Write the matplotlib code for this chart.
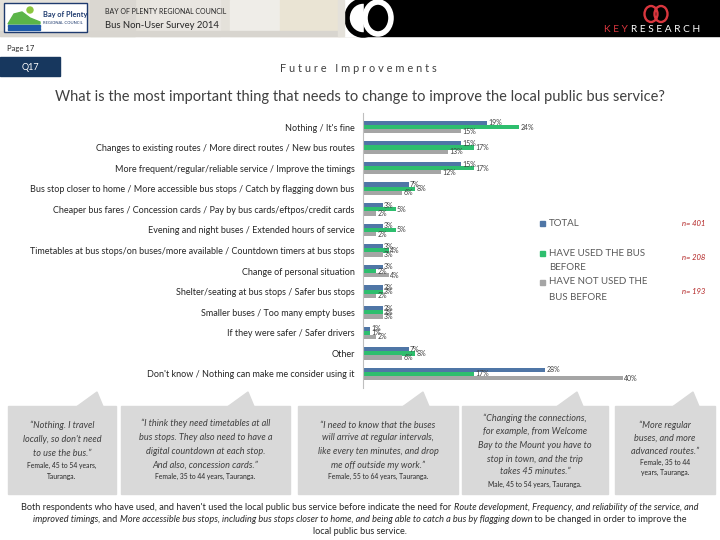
import matplotlib
matplotlib.use('Agg')
import matplotlib.pyplot as plt
from matplotlib.patches import Rectangle, Polygon, Ellipse, Circle
import numpy as np

plt.rcParams['font.family'] = ['Lato', 'DejaVu Sans']

# ---------------- data ----------------
categories = [
    "Nothing / It's fine",
    "Changes to existing routes / More direct routes / New bus routes",
    "More frequent/regular/reliable service / Improve the timings",
    "Bus stop closer to home / More accessible bus stops / Catch by flagging down bus",
    "Cheaper bus fares / Concession cards / Pay by bus cards/eftpos/credit cards",
    "Evening and night buses / Extended hours of service",
    "Timetables at bus stops/on buses/more available / Countdown timers at bus stops",
    "Change of personal situation",
    "Shelter/seating at bus stops / Safer bus stops",
    "Smaller buses / Too many empty buses",
    "If they were safer / Safer drivers",
    "Other",
    "Don't know / Nothing can make me consider using it",
]
total = [19, 15, 15, 7, 3, 3, 3, 3, 3, 3, 1, 7, 28]
used_before = [24, 17, 17, 8, 5, 5, 4, 2, 3, 3, 1, 8, 17]
not_used_before = [15, 13, 12, 6, 2, 2, 3, 4, 2, 3, 2, 6, 40]
series_names = ["TOTAL", "HAVE USED THE BUS\nBEFORE", "HAVE NOT USED THE\nBUS BEFORE"]
sample_sizes = ["n= 401", "n= 208", "n= 193"]

quotes = [
    "\u201cNothing. I travel\nlocally, so don't need\nto use the bus.\u201d",
    "\u201cI think they need timetables at all\nbus stops. They also need to have a\ndigital countdown at each stop.\nAnd also, concession cards.\u201d",
    "\u201cI need to know that the buses\nwill arrive at regular intervals,\nlike every ten minutes, and drop\nme off outside my work.\u201d",
    "\u201cChanging the connections,\nfor example, from Welcome\nBay to the Mount you have to\nstop in town, and the trip\ntakes 45 minutes.\u201d",
    "\u201cMore regular\nbuses, and more\nadvanced routes.\u201d",
]
attributions = [
    "Female, 45 to 54 years,\nTauranga.",
    "Female, 35 to 44 years, Tauranga.",
    "Female, 55 to 64 years, Tauranga.",
    "Male, 45 to 54 years, Tauranga.",
    "Female, 35 to 44\nyears, Tauranga.",
]

blue = '#4F76A6'
green = '#2EBE6E'
grey = '#A5A5A5'
colors = [blue, green, grey]

fig = plt.figure(figsize=(7.2, 5.4), dpi=100)
bg = fig.add_axes([0, 0, 1, 1])
bg.set_xlim(0, 720)
bg.set_ylim(540, 0)
bg.axis('off')

# ---------------- header ----------------
bg.add_patch(Rectangle((0, 0), 362, 36, color='#E4E1DA', zorder=1))
for (x0, y0, w, hh, c) in [(90, 0, 45, 36, '#DAD7D1'), (150, 0, 70, 36, '#E9E6E1'),
                           (230, 0, 50, 36, '#EFEDE8'), (280, 0, 65, 36, '#EAE4D4'),
                           (0, 31, 362, 5, '#D8D5CF')]:
    bg.add_patch(Rectangle((x0, y0), w, hh, color=c, zorder=1))
bg.add_patch(Rectangle((340, 0), 24, 36, color='white', zorder=2))
bg.add_patch(Rectangle((364, 0), 356, 36, color='black', zorder=2))
bg.add_patch(Ellipse((363, 18), 32, 34, fill=False, ec='black', lw=4, zorder=3))
bg.add_patch(Ellipse((378, 18), 26, 32, fill=False, ec='white', lw=4, zorder=4))
bg.add_patch(Rectangle((338, 0), 6, 36, color='#E4E1DA', zorder=5))

# Bay of Plenty logo
bg.add_patch(Rectangle((4, 3), 83, 29, fc='white', ec='#1F3B6F', lw=1, zorder=5))
bg.add_patch(Polygon([(8, 24), (14, 14), (22, 12), (30, 18), (40, 22), (40, 24)],
                     color='#5BB548', zorder=6))
for yy in (25, 28):
    bg.add_patch(Rectangle((8, yy), 32, 1.6, color='#1E5AA8', zorder=6))
bg.add_patch(Circle((30, 10), 3, color='#8CC63F', zorder=6))
bg.text(43, 14, "Bay of Plenty", fontsize=5.3, color='#1F3B6F', fontweight='bold', zorder=7, va='center')
bg.text(43, 23, "REGIONAL COUNCIL", fontsize=3, color='#1F3B6F', zorder=7, va='center')

bg.text(105, 12, "BAY OF PLENTY REGIONAL COUNCIL", fontsize=5, color='#262626', va='center', zorder=7)
bg.text(105, 25, "Bus Non-User Survey 2014", fontsize=6.8, color='#262626', va='center', zorder=7)

# KeyResearch logo
bg.add_patch(Ellipse((651, 14), 13, 16, fill=False, ec='#D9363E', lw=1.7, zorder=7))
bg.add_patch(Ellipse((661, 14), 13, 16, fill=False, ec='#D9363E', lw=1.7, zorder=7))
bg.text(628, 29, "K E Y", fontsize=7.3, color='#D9363E', ha='right', va='center', zorder=7)
bg.text(631, 29, "R E S E A R C H", fontsize=7.3, color='white', ha='left', va='center', zorder=7)

bg.text(7, 48, "Page 17", fontsize=5.5, color='#262626', va='center')
bg.add_patch(Rectangle((0, 57), 60, 19, color='#17375E'))
bg.text(30, 67, "Q17", fontsize=6.5, color='white', ha='center', va='center')
bg.text(358, 68, "F u t u r e   I m p r o v e m e n t s", fontsize=7.9, color='#404040',
        ha='center', va='center')
bg.text(360, 97, "What is the most important thing that needs to change to improve the local public bus service?",
        fontsize=10.5, color='#404040', ha='center', va='center')

# ---------------- chart ----------------
ax = fig.add_axes([363 / 720, 1 - 388.4 / 540, 325 / 720, 275.8 / 540])
ax.patch.set_alpha(0)
y = np.arange(len(categories))
off = 0.2
h = 0.21
for i, vals in enumerate([total, used_before, not_used_before]):
    ax.barh(y + (i - 1) * off, vals, height=h, color=colors[i])
    for yy, v in zip(y, vals):
        ax.annotate(f"{v}%", (v, yy + (i - 1) * off), xytext=(1, 0), textcoords='offset points',
                    fontsize=5.0, color='#404040', va='center', ha='left')
ax.set_ylim(12.7, -0.7)
ax.set_xlim(0, 50)
ax.set_yticks(y)
ax.set_yticklabels(categories, fontsize=6.5, color='#262626')
ax.tick_params(axis='y', length=0, pad=6)
ax.set_xticks([])
for s in ['top', 'right', 'bottom']:
    ax.spines[s].set_visible(False)
ax.spines['left'].set_color('#BFBFBF')
ax.spines['left'].set_linewidth(0.8)

# legend (manual)
leg_rows = [(223, [223]), (253, [253, 267]), (282, [282, 297])]
n_y = [223, 257, 292]
for i, (my, ys) in enumerate(leg_rows):
    bg.add_patch(Rectangle((540, my - 2.5), 5, 5, color=colors[i]))
    for line, ly in zip(series_names[i].split("\n"), ys):
        bg.text(549, ly, line, fontsize=7, color='#595959', va='center', ha='left')
    bg.text(705, n_y[i], sample_sizes[i], fontsize=5.5, color='#B22222', style='italic',
            va='center', ha='right')

# ---------------- quote boxes ----------------
boxes = [(8, 116), (121, 290), (298, 458), (462, 608), (615, 715)]
apex = [97, 248, 423, 577, 693]
quote_y = [[425, 439, 453], [423, 437, 451, 465], [425, 438, 452, 465], [418, 432, 446, 459, 471], [425, 438, 452]]
attr_y = [[465, 476], [476], [476], [484], [462, 472]]
for (x0, x1), ax_, qy, ay, q, a in zip(boxes, apex, quote_y, attr_y, quotes, attributions):
    bg.add_patch(Rectangle((x0, 406), x1 - x0, 88, color='#D9D9D9'))
    bg.add_patch(Polygon([(ax_ - 20, 406.5), (ax_, 392), (ax_ + 6, 406.5)], color='#D9D9D9'))
    cx = (x0 + x1) / 2
    for line, ly in zip(q.split("\n"), qy):
        bg.text(cx, ly, line, fontsize=6.6, style='italic', color='#404040', ha='center', va='center')
    for line, ly in zip(a.split("\n"), ay):
        bg.text(cx, ly, line, fontsize=4.9, color='#262626', ha='center', va='center')

# ---------------- footer ----------------
renderer = fig.canvas.get_renderer()


def mixed_line(yc, segs, size=6.6, color='#262626'):
    texts, widths = [], []
    for s, st in segs:
        t = bg.text(0, yc, s, fontsize=size, style=st, color=color, va='center', ha='left')
        w = t.get_window_extent(renderer=renderer).width
        texts.append(t)
        widths.append(w)
    x = 360 - sum(widths) / 2
    for t, w in zip(texts, widths):
        t.set_x(x)
        x += w


mixed_line(507, [("Both respondents who have used, and haven't used the local public bus service before indicate the need for\u00a0", 'normal'),
                 ("Route development, Frequency, and reliability of the service, and", 'italic')])
mixed_line(519, [("improved timings", 'italic'), (", and\u00a0", 'normal'),
                 ("More accessible bus stops, including bus stops closer to home, and being able to catch a bus by flagging down", 'italic'),
                 ("\u00a0to be changed in order to improve the", 'normal')])
mixed_line(531, [("local public bus service.", 'normal')])

fig.savefig('out.png', dpi=100)
